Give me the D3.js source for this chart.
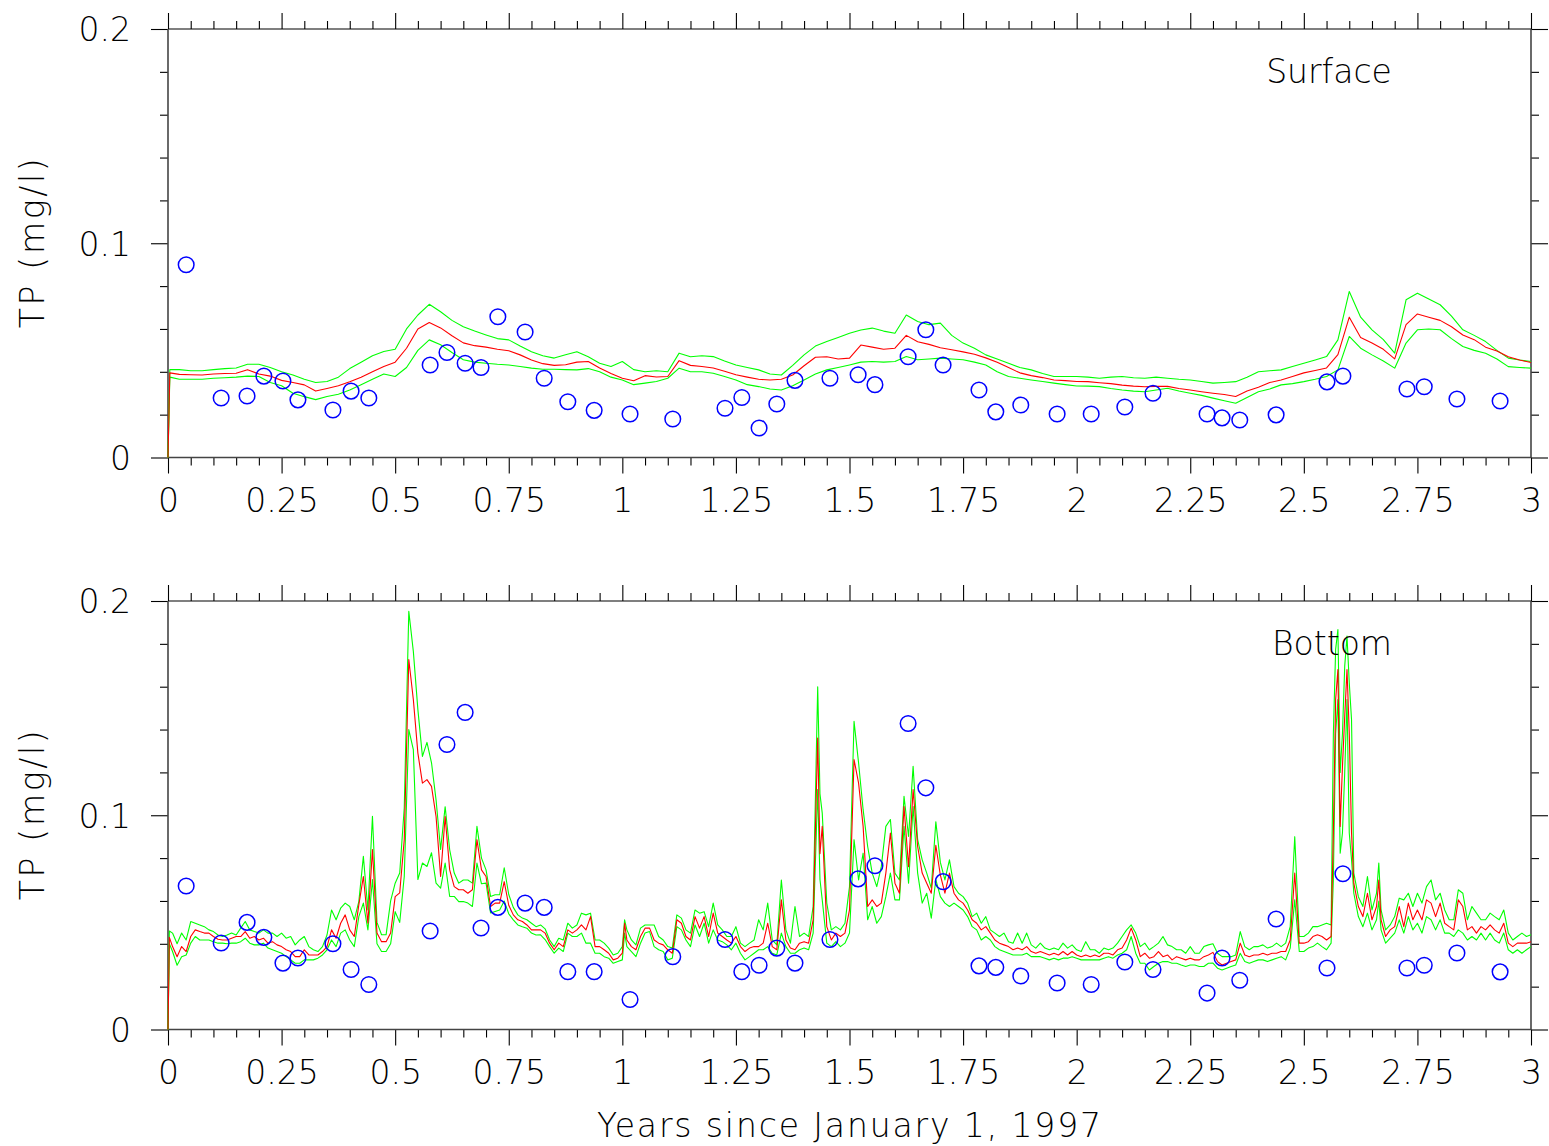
<!DOCTYPE html>
<html>
<head>
<meta charset="utf-8">
<script src="https://cdn.jsdelivr.net/npm/d3@7"></script>
<style>
  html, body { margin: 0; padding: 0; background: #fff; }
  svg text { font-family: "DejaVu Sans", "Liberation Sans", sans-serif; font-weight: 200; fill: #000; }
</style>
</head>
<body>
<svg id="chart" width="1549" height="1146"></svg>
<script>
// ---------------- DATA ----------------
const yearTicks = [0, 0.25, 0.5, 0.75, 1, 1.25, 1.5, 1.75, 2, 2.25, 2.5, 2.75, 3];
const yearTickLabels = ["0", "0.25", "0.5", "0.75", "1", "1.25", "1.5", "1.75", "2", "2.25", "2.5", "2.75", "3"];
const tpTicks = [0, 0.1, 0.2];
const tpTickLabels = ["0", "0.1", "0.2"];
const panelNames = ["Surface", "Bottom"];
const xTitle = "Years since January 1, 1997";
const yTitle = "TP (mg/l)";

// observation times (years) and observed TP (mg/l)
const obsX = [0.040, 0.117, 0.174, 0.211, 0.253, 0.286, 0.363, 0.403, 0.442, 0.577,
  0.614, 0.654, 0.689, 0.726, 0.786, 0.828, 0.880, 0.938, 1.017, 1.111,
  1.226, 1.263, 1.301, 1.340, 1.380, 1.457, 1.519, 1.556, 1.629, 1.668,
  1.706, 1.785, 1.822, 1.877, 1.957, 2.032, 2.106, 2.168, 2.287, 2.320,
  2.359, 2.439, 2.551, 2.586, 2.727, 2.765, 2.837, 2.932];
const obsSurface = [0.090, 0.0278, 0.0287, 0.038, 0.0357, 0.0269, 0.0222, 0.031, 0.0278, 0.0432,
  0.049, 0.044, 0.042, 0.0657, 0.0586, 0.037, 0.026, 0.022, 0.0203, 0.018,
  0.023, 0.028, 0.0138, 0.025, 0.036, 0.037, 0.0386, 0.034, 0.047, 0.0596,
  0.0432, 0.0315, 0.0213, 0.0245, 0.0203, 0.0203, 0.0236, 0.030, 0.0203, 0.0185,
  0.0175, 0.0199, 0.0353, 0.038, 0.032, 0.033, 0.0273, 0.0264];
const obsBottom = [0.067, 0.0404, 0.050, 0.043, 0.031, 0.0334, 0.040, 0.028, 0.021, 0.046,
  0.133, 0.148, 0.0474, 0.057, 0.059, 0.057, 0.027, 0.027, 0.014, 0.034,
  0.042, 0.027, 0.030, 0.038, 0.031, 0.042, 0.0703, 0.0764, 0.1428, 0.1128,
  0.069, 0.0297, 0.029, 0.025, 0.0217, 0.021, 0.0315, 0.028, 0.017, 0.0334,
  0.023, 0.0516, 0.0287, 0.0727, 0.0287, 0.030, 0.0357, 0.0269];

// Surface model: time, mean (red), upper and lower bounds (green)
const topX = [0, 0.004,
  0.025, 0.05, 0.075, 0.1, 0.125, 0.15, 0.175, 0.2, 0.225, 0.25,
  0.275, 0.3, 0.325, 0.35, 0.375, 0.4, 0.425, 0.45, 0.475, 0.5,
  0.525, 0.55, 0.575, 0.6, 0.625, 0.65, 0.675, 0.7, 0.725, 0.75,
  0.775, 0.8, 0.825, 0.85, 0.875, 0.9, 0.925, 0.95, 0.975, 1.0,
  1.025, 1.05, 1.075, 1.1, 1.125, 1.15, 1.175, 1.2, 1.225, 1.25,
  1.275, 1.3, 1.325, 1.35, 1.375, 1.4, 1.425, 1.45, 1.475, 1.5,
  1.525, 1.55, 1.575, 1.6, 1.625, 1.65, 1.675, 1.7, 1.725, 1.75,
  1.775, 1.8, 1.825, 1.85, 1.875, 1.9, 1.925, 1.95, 1.975, 2.0,
  2.025, 2.05, 2.075, 2.1, 2.125, 2.15, 2.175, 2.2, 2.225, 2.25,
  2.275, 2.3, 2.325, 2.35, 2.375, 2.4, 2.425, 2.45, 2.475, 2.5,
  2.525, 2.55, 2.575, 2.6, 2.625, 2.65, 2.675, 2.7, 2.725, 2.75,
  2.775, 2.8, 2.825, 2.85, 2.875, 2.9, 2.925, 2.95, 2.975, 3.0];
const topMean = [0, 0.0395,
  0.0388, 0.0386, 0.0385, 0.039, 0.0392, 0.0393, 0.041, 0.039, 0.038, 0.036,
  0.035, 0.0339, 0.031, 0.0322, 0.0335, 0.0354, 0.0375, 0.040, 0.0425, 0.0445,
  0.051, 0.060, 0.063, 0.0605, 0.0568, 0.0535, 0.0522, 0.0515, 0.0505, 0.0498,
  0.0479, 0.0455, 0.0438, 0.043, 0.0433, 0.0445, 0.0448, 0.0418, 0.0392, 0.037,
  0.0358, 0.0382, 0.0376, 0.0378, 0.0452, 0.043, 0.0425, 0.0418, 0.0403, 0.0386,
  0.0375, 0.0365, 0.0362, 0.0365, 0.0385, 0.0428, 0.0468, 0.047, 0.046, 0.0464,
  0.0525, 0.0515, 0.0505, 0.051, 0.057, 0.054, 0.0528, 0.0512, 0.0503, 0.0493,
  0.0482, 0.0465, 0.0445, 0.042, 0.0395, 0.0382, 0.0373, 0.0362, 0.0359, 0.0355,
  0.0354, 0.0349, 0.0345, 0.0338, 0.0333, 0.033, 0.0332, 0.0332, 0.0322, 0.0315,
  0.0307, 0.030, 0.0294, 0.0285, 0.031, 0.0328, 0.035, 0.0362, 0.0378, 0.0395,
  0.0406, 0.0418, 0.048, 0.0655, 0.056, 0.0534, 0.0505, 0.046, 0.062, 0.067,
  0.0655, 0.064, 0.061, 0.0572, 0.055, 0.0515, 0.0497, 0.047, 0.0455, 0.0443];
const topUpper = [0, 0.041,
  0.041, 0.0405, 0.0405, 0.041, 0.0415, 0.0418, 0.0435, 0.0435, 0.042, 0.040,
  0.0385, 0.0365, 0.035, 0.0355, 0.0375, 0.0415, 0.0445, 0.0475, 0.0495, 0.0505,
  0.060, 0.0665, 0.0715, 0.068, 0.064, 0.061, 0.059, 0.0572, 0.0555, 0.0549,
  0.052, 0.0494, 0.0475, 0.0464, 0.048, 0.0494, 0.047, 0.044, 0.0425, 0.0448,
  0.041, 0.040, 0.0405, 0.040, 0.0487, 0.047, 0.0475, 0.0471, 0.045, 0.0432,
  0.042, 0.0409, 0.039, 0.0385, 0.043, 0.0479, 0.052, 0.0541, 0.056, 0.058,
  0.0595, 0.0604, 0.059, 0.058, 0.0665, 0.0635, 0.062, 0.0627, 0.057, 0.0534,
  0.051, 0.0479, 0.046, 0.044, 0.042, 0.0409, 0.0392, 0.0378, 0.0378, 0.0378,
  0.0375, 0.037, 0.0375, 0.0378, 0.0372, 0.037, 0.0375, 0.037, 0.0365, 0.0362,
  0.0355, 0.0347, 0.035, 0.0354, 0.0375, 0.040, 0.0405, 0.0409, 0.0425, 0.044,
  0.0455, 0.0471, 0.0549, 0.0775, 0.0655, 0.0596, 0.055, 0.0487, 0.0736, 0.0767,
  0.074, 0.0713, 0.066, 0.0596, 0.057, 0.0541, 0.050, 0.0464, 0.0455, 0.0448];
const topLower = [0, 0.0375,
  0.0365, 0.0365, 0.0365, 0.037, 0.0372, 0.0375, 0.038, 0.0378, 0.035, 0.0335,
  0.030, 0.0284, 0.027, 0.0285, 0.0295, 0.0315, 0.034, 0.0365, 0.039, 0.0378,
  0.042, 0.050, 0.0549, 0.0526, 0.049, 0.0456, 0.0445, 0.044, 0.0435, 0.0432,
  0.0425, 0.0417, 0.0412, 0.0412, 0.041, 0.0409, 0.0415, 0.040, 0.0375, 0.0362,
  0.034, 0.0347, 0.0355, 0.037, 0.0417, 0.040, 0.040, 0.0393, 0.0378, 0.0362,
  0.034, 0.0331, 0.032, 0.0315, 0.0335, 0.0362, 0.039, 0.0409, 0.042, 0.0432,
  0.0445, 0.0448, 0.0445, 0.0448, 0.0471, 0.0456, 0.046, 0.0464, 0.046, 0.0456,
  0.0445, 0.0432, 0.040, 0.0378, 0.037, 0.0362, 0.0355, 0.0347, 0.034, 0.0334,
  0.0333, 0.0331, 0.0322, 0.0315, 0.031, 0.0307, 0.0315, 0.0323, 0.031, 0.030,
  0.029, 0.0277, 0.0265, 0.0253, 0.028, 0.0307, 0.032, 0.0339, 0.0345, 0.0354,
  0.0365, 0.0378, 0.0409, 0.0565, 0.051, 0.0479, 0.045, 0.0417, 0.0534, 0.0596,
  0.060, 0.0596, 0.0555, 0.0518, 0.050, 0.0487, 0.046, 0.0424, 0.042, 0.0417];

// Bottom model: time, mean (red), upper and lower bounds (green)
const botX = [
  0, 0.003, 0.01, 0.02, 0.03, 0.04, 0.05, 0.06, 0.07, 0.08, 0.09,
  0.10, 0.11, 0.12, 0.13, 0.14, 0.15, 0.16, 0.17, 0.18, 0.19,
  0.20, 0.21, 0.22, 0.23, 0.24, 0.25, 0.26, 0.27, 0.28, 0.29,
  0.30, 0.31, 0.32, 0.33, 0.34, 0.35, 0.36, 0.37, 0.38, 0.39,
  0.40, 0.41, 0.42, 0.43, 0.44, 0.45, 0.46, 0.47, 0.48, 0.49,
  0.50, 0.51, 0.52, 0.53, 0.54, 0.55, 0.56, 0.57, 0.58, 0.59,
  0.60, 0.61, 0.62, 0.63, 0.64, 0.65, 0.66, 0.67, 0.68, 0.69,
  0.70, 0.71, 0.72, 0.73, 0.74, 0.75, 0.76, 0.77, 0.78, 0.79,
  0.80, 0.81, 0.82, 0.83, 0.84, 0.85, 0.86, 0.87, 0.88, 0.89,
  0.90, 0.91, 0.92, 0.93, 0.94, 0.95, 0.96, 0.97, 0.98, 0.99,
  1.00, 1.005, 1.01, 1.02, 1.03, 1.04, 1.05, 1.06, 1.07, 1.08, 1.09,
  1.10, 1.11, 1.12, 1.13, 1.14, 1.15, 1.16, 1.17, 1.18, 1.19,
  1.20, 1.21, 1.22, 1.23, 1.24, 1.25, 1.26, 1.27, 1.28, 1.29,
  1.30, 1.31, 1.32, 1.33, 1.34, 1.35, 1.36, 1.37, 1.38, 1.39,
  1.40, 1.41, 1.42, 1.43, 1.435, 1.44, 1.45, 1.46, 1.47, 1.48, 1.49,
  1.50, 1.51, 1.52, 1.53, 1.54, 1.55, 1.56, 1.57, 1.58, 1.59,
  1.60, 1.61, 1.62, 1.63, 1.64, 1.65, 1.66, 1.67, 1.68, 1.69,
  1.70, 1.71, 1.72, 1.73, 1.74, 1.75, 1.76, 1.77, 1.78, 1.79,
  1.80, 1.81, 1.82, 1.83, 1.84, 1.85, 1.86, 1.87, 1.88, 1.89,
  1.90, 1.91, 1.92, 1.93, 1.94, 1.95, 1.96, 1.97, 1.98, 1.99,
  2.00, 2.01, 2.02, 2.03, 2.04, 2.05, 2.06, 2.07, 2.08, 2.09,
  2.10, 2.11, 2.12, 2.13, 2.14, 2.15, 2.16, 2.17, 2.18, 2.19,
  2.20, 2.21, 2.22, 2.23, 2.24, 2.25, 2.26, 2.27, 2.28, 2.29,
  2.30, 2.31, 2.32, 2.33, 2.34, 2.35, 2.36, 2.37, 2.38, 2.39,
  2.40, 2.41, 2.42, 2.43, 2.44, 2.45, 2.46, 2.47, 2.48, 2.49,
  2.50, 2.51, 2.52, 2.53, 2.54, 2.55, 2.56, 2.565, 2.57, 2.575, 2.58, 2.585, 2.59, 2.595,
  2.60, 2.605, 2.61, 2.62, 2.63, 2.64, 2.65, 2.66, 2.665, 2.67, 2.68, 2.69,
  2.70, 2.71, 2.72, 2.73, 2.74, 2.75, 2.76, 2.77, 2.78, 2.79,
  2.80, 2.81, 2.82, 2.83, 2.84, 2.85, 2.86, 2.87, 2.88, 2.89,
  2.90, 2.91, 2.92, 2.93, 2.94, 2.95, 2.96, 2.97, 2.98, 2.99, 3.00];
const botMean = [
  0, 0.043, 0.0387, 0.034, 0.0387, 0.0364, 0.0434, 0.0465, 0.0457, 0.045, 0.045,
  0.0434, 0.0421, 0.0418, 0.0418, 0.0426, 0.0434, 0.0434, 0.0457, 0.0426, 0.0434,
  0.0418, 0.0426, 0.0403, 0.041, 0.0395, 0.0387, 0.0372, 0.0364, 0.034, 0.034,
  0.0372, 0.0348, 0.0348, 0.0348, 0.0364, 0.0387, 0.0465, 0.0426, 0.0496, 0.0535,
  0.0465, 0.0434, 0.0582, 0.0714, 0.0496, 0.084, 0.045, 0.041, 0.041, 0.045,
  0.062, 0.0638, 0.0886, 0.1727, 0.154, 0.129, 0.115, 0.1166, 0.1135, 0.0994,
  0.0714, 0.0994, 0.0745, 0.0667, 0.0652, 0.0652, 0.0636, 0.0652, 0.0886, 0.0745,
  0.0714, 0.0574, 0.059, 0.059, 0.069, 0.058, 0.0535, 0.0512, 0.0504, 0.0488,
  0.0465, 0.0465, 0.0465, 0.045, 0.0403, 0.0372, 0.0403, 0.0387, 0.0465, 0.045,
  0.0465, 0.0488, 0.0465, 0.0527, 0.0387, 0.0387, 0.0372, 0.0356, 0.0325, 0.0333,
  0.0356, 0.0496, 0.0418, 0.0387, 0.0372, 0.0434, 0.0473, 0.0473, 0.0418, 0.0403, 0.0395,
  0.0372, 0.0356, 0.0512, 0.0496, 0.0434, 0.0418, 0.0527, 0.0473, 0.0527, 0.0434,
  0.0543, 0.045, 0.0434, 0.0418, 0.0403, 0.0434, 0.0387, 0.0364, 0.038, 0.0387,
  0.0387, 0.0403, 0.0496, 0.0387, 0.0372, 0.0605, 0.0418, 0.038, 0.0372, 0.0403,
  0.041, 0.0403, 0.0512, 0.136, 0.082, 0.0948, 0.048, 0.0418, 0.045, 0.0434, 0.045,
  0.0558, 0.126, 0.115, 0.0948, 0.0574, 0.0605, 0.0574, 0.059, 0.073, 0.0917,
  0.0683, 0.0636, 0.1041, 0.076, 0.112, 0.0854, 0.073, 0.0683, 0.0636, 0.086,
  0.072, 0.0636, 0.073, 0.0636, 0.0605, 0.059, 0.0558, 0.0512, 0.0496, 0.0465,
  0.048, 0.045, 0.0418, 0.0403, 0.0395, 0.0387, 0.0372, 0.038, 0.0372, 0.0387,
  0.0364, 0.0356, 0.0364, 0.0356, 0.0348, 0.0356, 0.0348, 0.0364, 0.0348, 0.0364,
  0.0348, 0.034, 0.0348, 0.034, 0.0348, 0.034, 0.0356, 0.0356, 0.0348, 0.0372,
  0.038, 0.0418, 0.0473, 0.0418, 0.034, 0.0356, 0.0333, 0.034, 0.0364, 0.034,
  0.0348, 0.0325, 0.034, 0.0333, 0.0325, 0.0333, 0.0325, 0.0325, 0.034, 0.0348,
  0.036, 0.0317, 0.0301, 0.0309, 0.0317, 0.0325, 0.0403, 0.0348, 0.034, 0.0348,
  0.0348, 0.0356, 0.0348, 0.0356, 0.0356, 0.0364, 0.0364, 0.0418, 0.073, 0.0403,
  0.0403, 0.041, 0.0434, 0.0442, 0.0434, 0.0418, 0.0434, 0.0917, 0.154, 0.168, 0.0948, 0.1228, 0.146, 0.168,
  0.1384, 0.0917, 0.0683, 0.0574, 0.0527, 0.0636, 0.0512, 0.0574, 0.0698, 0.0512, 0.0434, 0.0465,
  0.048, 0.0574, 0.048, 0.059, 0.0512, 0.0558, 0.0512, 0.0605, 0.059, 0.0527,
  0.059, 0.0496, 0.048, 0.0465, 0.0605, 0.0574, 0.0465, 0.048, 0.045, 0.048,
  0.0465, 0.0488, 0.0465, 0.045, 0.0496, 0.0403, 0.0387, 0.0403, 0.0403, 0.0403, 0.041];
const botUpper = [
  0, 0.046, 0.045, 0.040, 0.045, 0.0418, 0.0504, 0.0496, 0.0488, 0.048, 0.0465,
  0.0457, 0.0441, 0.0434, 0.0441, 0.045, 0.0441, 0.0473, 0.0504, 0.0465, 0.0457,
  0.045, 0.0465, 0.045, 0.045, 0.0434, 0.045, 0.0426, 0.0434, 0.0395, 0.0418,
  0.0434, 0.0387, 0.0372, 0.0364, 0.0387, 0.0441, 0.0558, 0.0512, 0.0566, 0.059,
  0.0574, 0.0512, 0.0597, 0.0808, 0.0558, 0.0995, 0.050, 0.0442, 0.0442, 0.060,
  0.0683, 0.073, 0.1035, 0.1952, 0.1765, 0.1493, 0.1275, 0.134, 0.1245, 0.1072,
  0.084, 0.104, 0.0839, 0.073, 0.0683, 0.0698, 0.0698, 0.0683, 0.0948, 0.080,
  0.0745, 0.0621, 0.0629, 0.0629, 0.0755, 0.063, 0.057, 0.0535, 0.052, 0.0512,
  0.0496, 0.048, 0.0488, 0.047, 0.0418, 0.0387, 0.0426, 0.0418, 0.0496, 0.0473,
  0.0488, 0.0543, 0.0535, 0.0543, 0.0418, 0.0418, 0.0403, 0.038, 0.0348, 0.0356,
  0.0387, 0.0512, 0.0465, 0.0418, 0.0395, 0.0473, 0.0488, 0.0488, 0.0488, 0.0434, 0.0418,
  0.0387, 0.038, 0.0535, 0.052, 0.0465, 0.045, 0.0558, 0.0543, 0.055, 0.048,
  0.059, 0.0488, 0.0465, 0.0434, 0.0434, 0.048, 0.0403, 0.0387, 0.0403, 0.0418,
  0.0512, 0.0465, 0.059, 0.0418, 0.0395, 0.0698, 0.0465, 0.0403, 0.0574, 0.0434,
  0.045, 0.0434, 0.0574, 0.160, 0.110, 0.101, 0.059, 0.0465, 0.048, 0.0465, 0.0496,
  0.0667, 0.1438, 0.1244, 0.1026, 0.0854, 0.073, 0.0667, 0.076, 0.0948, 0.098,
  0.073, 0.0698, 0.1088, 0.0901, 0.1228, 0.0886, 0.0792, 0.073, 0.066, 0.097,
  0.078, 0.0698, 0.0792, 0.0667, 0.0636, 0.062, 0.059, 0.0527, 0.0543, 0.0496,
  0.0527, 0.0465, 0.045, 0.0434, 0.045, 0.041, 0.0403, 0.045, 0.0403, 0.045,
  0.0395, 0.038, 0.0403, 0.038, 0.0372, 0.038, 0.0372, 0.0403, 0.038, 0.0395,
  0.0372, 0.0364, 0.041, 0.0372, 0.0372, 0.0356, 0.038, 0.0372, 0.038, 0.0403,
  0.0434, 0.0465, 0.0488, 0.045, 0.0387, 0.0403, 0.0372, 0.0387, 0.0403, 0.0434,
  0.0395, 0.0387, 0.0372, 0.0372, 0.0356, 0.0387, 0.0356, 0.0356, 0.0387, 0.0395,
  0.040, 0.0356, 0.034, 0.034, 0.034, 0.0348, 0.0457, 0.0387, 0.0372, 0.0387,
  0.0387, 0.0395, 0.038, 0.0387, 0.0403, 0.0387, 0.0403, 0.048, 0.090, 0.0434,
  0.0434, 0.045, 0.048, 0.048, 0.0488, 0.0496, 0.0488, 0.138, 0.1774, 0.1867, 0.120, 0.138, 0.1696, 0.1836,
  0.1618, 0.1446, 0.073, 0.062, 0.0574, 0.0714, 0.0558, 0.0636, 0.0777, 0.0558, 0.0465, 0.0488,
  0.0527, 0.0613, 0.0605, 0.0636, 0.0574, 0.0636, 0.059, 0.0667, 0.0698, 0.0605,
  0.0636, 0.0558, 0.0512, 0.0512, 0.0652, 0.0636, 0.0512, 0.0574, 0.0543, 0.0512,
  0.0512, 0.0543, 0.0527, 0.0512, 0.0558, 0.045, 0.0418, 0.0434, 0.045, 0.0434, 0.0442];
const botLower = [
  0, 0.040, 0.0364, 0.030, 0.034, 0.0348, 0.0403, 0.0434, 0.0418, 0.0418, 0.0418,
  0.041, 0.0403, 0.0403, 0.040, 0.0403, 0.0403, 0.041, 0.0426, 0.0403, 0.0395,
  0.0395, 0.0403, 0.038, 0.0372, 0.0364, 0.0356, 0.034, 0.0325, 0.0309, 0.0309,
  0.0325, 0.0325, 0.0325, 0.0333, 0.0348, 0.0372, 0.0418, 0.0387, 0.045, 0.0465,
  0.0418, 0.0387, 0.0527, 0.059, 0.0465, 0.070, 0.040, 0.0364, 0.0364, 0.040,
  0.055, 0.050, 0.0714, 0.140, 0.1306, 0.070, 0.0777, 0.0761, 0.0825, 0.0683,
  0.066, 0.0777, 0.0621, 0.0621, 0.0597, 0.0597, 0.059, 0.0574, 0.0777, 0.068,
  0.0683, 0.0544, 0.0551, 0.0558, 0.060, 0.054, 0.0512, 0.0488, 0.048, 0.0473,
  0.045, 0.0441, 0.0442, 0.042, 0.0387, 0.0356, 0.038, 0.0364, 0.045, 0.0434,
  0.0434, 0.045, 0.0403, 0.0403, 0.0356, 0.0356, 0.034, 0.0333, 0.0309, 0.0317,
  0.0325, 0.045, 0.0387, 0.0364, 0.034, 0.0403, 0.045, 0.0457, 0.0387, 0.0372, 0.0364,
  0.0325, 0.0333, 0.048, 0.0465, 0.0418, 0.0387, 0.0488, 0.0434, 0.0496, 0.0403,
  0.0465, 0.0418, 0.041, 0.0395, 0.0372, 0.0403, 0.0356, 0.0325, 0.034, 0.0356,
  0.0372, 0.0372, 0.0387, 0.0356, 0.0348, 0.045, 0.0387, 0.0356, 0.0356, 0.0372,
  0.038, 0.0372, 0.045, 0.112, 0.070, 0.0605, 0.0403, 0.0387, 0.041, 0.0387, 0.0403,
  0.045, 0.0886, 0.0698, 0.0823, 0.0512, 0.0574, 0.0496, 0.0527, 0.062, 0.073,
  0.0605, 0.0605, 0.0948, 0.0683, 0.1041, 0.073, 0.059, 0.0636, 0.052, 0.070,
  0.062, 0.059, 0.0574, 0.059, 0.0574, 0.0558, 0.0527, 0.048, 0.0465, 0.0418,
  0.0434, 0.0418, 0.0387, 0.0372, 0.0364, 0.0356, 0.0348, 0.0348, 0.0348, 0.0356,
  0.034, 0.034, 0.034, 0.0333, 0.0325, 0.0333, 0.0325, 0.0333, 0.0333, 0.034,
  0.0333, 0.0325, 0.0325, 0.0325, 0.0325, 0.0325, 0.0333, 0.034, 0.0333, 0.0348,
  0.0356, 0.0372, 0.0434, 0.0356, 0.0309, 0.0309, 0.0278, 0.0294, 0.0309, 0.0317,
  0.0317, 0.0309, 0.0309, 0.0301, 0.0294, 0.0301, 0.0301, 0.0294, 0.0294, 0.0309,
  0.031, 0.0286, 0.0278, 0.0286, 0.0294, 0.0301, 0.0356, 0.0317, 0.0309, 0.0317,
  0.0325, 0.0325, 0.0317, 0.0325, 0.0333, 0.034, 0.0325, 0.038, 0.0605, 0.0364,
  0.0364, 0.038, 0.0387, 0.0403, 0.0387, 0.0372, 0.0403, 0.070, 0.138, 0.154, 0.0823, 0.0917, 0.120, 0.154,
  0.0917, 0.0792, 0.0636, 0.0527, 0.048, 0.0543, 0.0465, 0.0512, 0.060, 0.0465, 0.0403, 0.0426,
  0.045, 0.0512, 0.045, 0.0527, 0.0465, 0.0496, 0.045, 0.0527, 0.0512, 0.0465,
  0.0512, 0.045, 0.045, 0.0434, 0.0465, 0.045, 0.0418, 0.0434, 0.0418, 0.045,
  0.0418, 0.045, 0.0418, 0.0403, 0.045, 0.0372, 0.0356, 0.0372, 0.0356, 0.0372, 0.0387];

// ---------------- DRAWING ----------------
const svg = d3.select("#chart");
svg.append("rect").attr("width", 1549).attr("height", 1146).attr("fill", "#fff");

const x = d3.scaleLinear().domain([0, 3]).range([168, 1531]);
const minorX = d3.range(0, 61).map(i => i * 0.05).filter(v => Math.abs(v / 0.25 - Math.round(v / 0.25)) > 1e-6);
const minorY = [0.02, 0.04, 0.06, 0.08, 0.12, 0.14, 0.16, 0.18];

const panels = [
  { name: panelNames[0], top: 29, bottom: 457.5, xs: topX, mean: topMean, upper: topUpper, lower: topLower, obs: obsSurface, labelX: 1329, labelY: 83 },
  { name: panelNames[1], top: 601, bottom: 1029.5, xs: botX, mean: botMean, upper: botUpper, lower: botLower, obs: obsBottom, labelX: 1332, labelY: 655 }
];

function zip(xs, ys) {
  const n = Math.min(xs.length, ys.length);
  const out = [];
  for (let i = 0; i < n; i++) out.push([xs[i], ys[i]]);
  return out;
}

panels.forEach(p => {
  const y = d3.scaleLinear().domain([0, 0.2]).range([p.bottom, p.top]);
  const g = svg.append("g");

  const styleAxis = sel => {
    sel.select(".domain").remove();
    sel.selectAll(".tick line").attr("stroke", "#000").attr("stroke-width", 1.1);
  };

  g.append("g").attr("transform", `translate(0,${p.bottom})`)
    .call(d3.axisBottom(x).tickValues(yearTicks).tickSize(16).tickPadding(15)
      .tickFormat((d, i) => yearTickLabels[i]))
    .call(styleAxis)
    .call(s => s.selectAll("text").attr("font-size", 33).attr("font-family", null).attr("dy", "0.71em"));
  g.append("g").attr("transform", `translate(0,${p.bottom})`)
    .call(d3.axisBottom(x).tickValues(minorX).tickSize(8).tickFormat(""))
    .call(styleAxis);
  g.append("g").attr("transform", `translate(0,${p.top})`)
    .call(d3.axisTop(x).tickValues(yearTicks).tickSize(16).tickFormat(""))
    .call(styleAxis);
  g.append("g").attr("transform", `translate(0,${p.top})`)
    .call(d3.axisTop(x).tickValues(minorX).tickSize(8).tickFormat(""))
    .call(styleAxis);
  g.append("g").attr("transform", `translate(168,0)`)
    .call(d3.axisLeft(y).tickValues(tpTicks).tickSize(17).tickPadding(20)
      .tickFormat((d, i) => tpTickLabels[i]))
    .call(styleAxis)
    .call(s => s.selectAll("text").attr("font-size", 33).attr("font-family", null).attr("dy", "0.36em"));
  g.append("g").attr("transform", `translate(168,0)`)
    .call(d3.axisLeft(y).tickValues(minorY).tickSize(8).tickFormat(""))
    .call(styleAxis);
  g.append("g").attr("transform", `translate(1531,0)`)
    .call(d3.axisRight(y).tickValues(tpTicks).tickSize(17).tickFormat(""))
    .call(styleAxis);
  g.append("g").attr("transform", `translate(1531,0)`)
    .call(d3.axisRight(y).tickValues(minorY).tickSize(8).tickFormat(""))
    .call(styleAxis);

  g.append("line").attr("x1", 168).attr("x2", 1531).attr("y1", p.top).attr("y2", p.top)
    .attr("stroke", "#000").attr("stroke-width", 1.2);
  g.append("line").attr("x1", 168).attr("x2", 1531).attr("y1", p.bottom).attr("y2", p.bottom)
    .attr("stroke", "#444").attr("stroke-width", 1.6);
  g.append("line").attr("x1", 168).attr("x2", 168).attr("y1", p.top).attr("y2", p.bottom)
    .attr("stroke", "#444").attr("stroke-width", 1.6);
  g.append("line").attr("x1", 1531).attr("x2", 1531).attr("y1", p.top).attr("y2", p.bottom)
    .attr("stroke", "#444").attr("stroke-width", 1.6);

  const line = d3.line().x(d => x(d[0])).y(d => y(d[1]));
  g.append("path").datum(zip(p.xs, p.upper)).attr("d", line)
    .attr("fill", "none").attr("stroke", "#00ff00").attr("stroke-width", 1.1).attr("stroke-linejoin", "round");
  g.append("path").datum(zip(p.xs, p.lower)).attr("d", line)
    .attr("fill", "none").attr("stroke", "#00ff00").attr("stroke-width", 1.1).attr("stroke-linejoin", "round");
  g.append("path").datum(zip(p.xs, p.mean)).attr("d", line)
    .attr("fill", "none").attr("stroke", "#ff0000").attr("stroke-width", 1.1).attr("stroke-linejoin", "round");

  g.selectAll("circle.obs").data(zip(obsX, p.obs)).join("circle")
    .attr("class", "obs")
    .attr("cx", d => x(d[0])).attr("cy", d => y(d[1])).attr("r", 7.8)
    .attr("fill", "none").attr("stroke", "#0000ff").attr("stroke-width", 1.5);

  g.append("text").attr("x", p.labelX).attr("y", p.labelY).attr("text-anchor", "middle")
    .attr("font-size", 33).text(p.name);

  g.append("text").attr("transform", `translate(44,${(p.top + p.bottom) / 2}) rotate(-90)`)
    .attr("text-anchor", "middle").attr("font-size", 33)
    .attr("textLength", 170).attr("lengthAdjust", "spacing").text(yTitle);
});

svg.append("text").attr("x", 849).attr("y", 1137).attr("text-anchor", "middle")
  .attr("font-size", 33).attr("textLength", 504).attr("lengthAdjust", "spacing").text(xTitle);
</script>
</body>
</html>
